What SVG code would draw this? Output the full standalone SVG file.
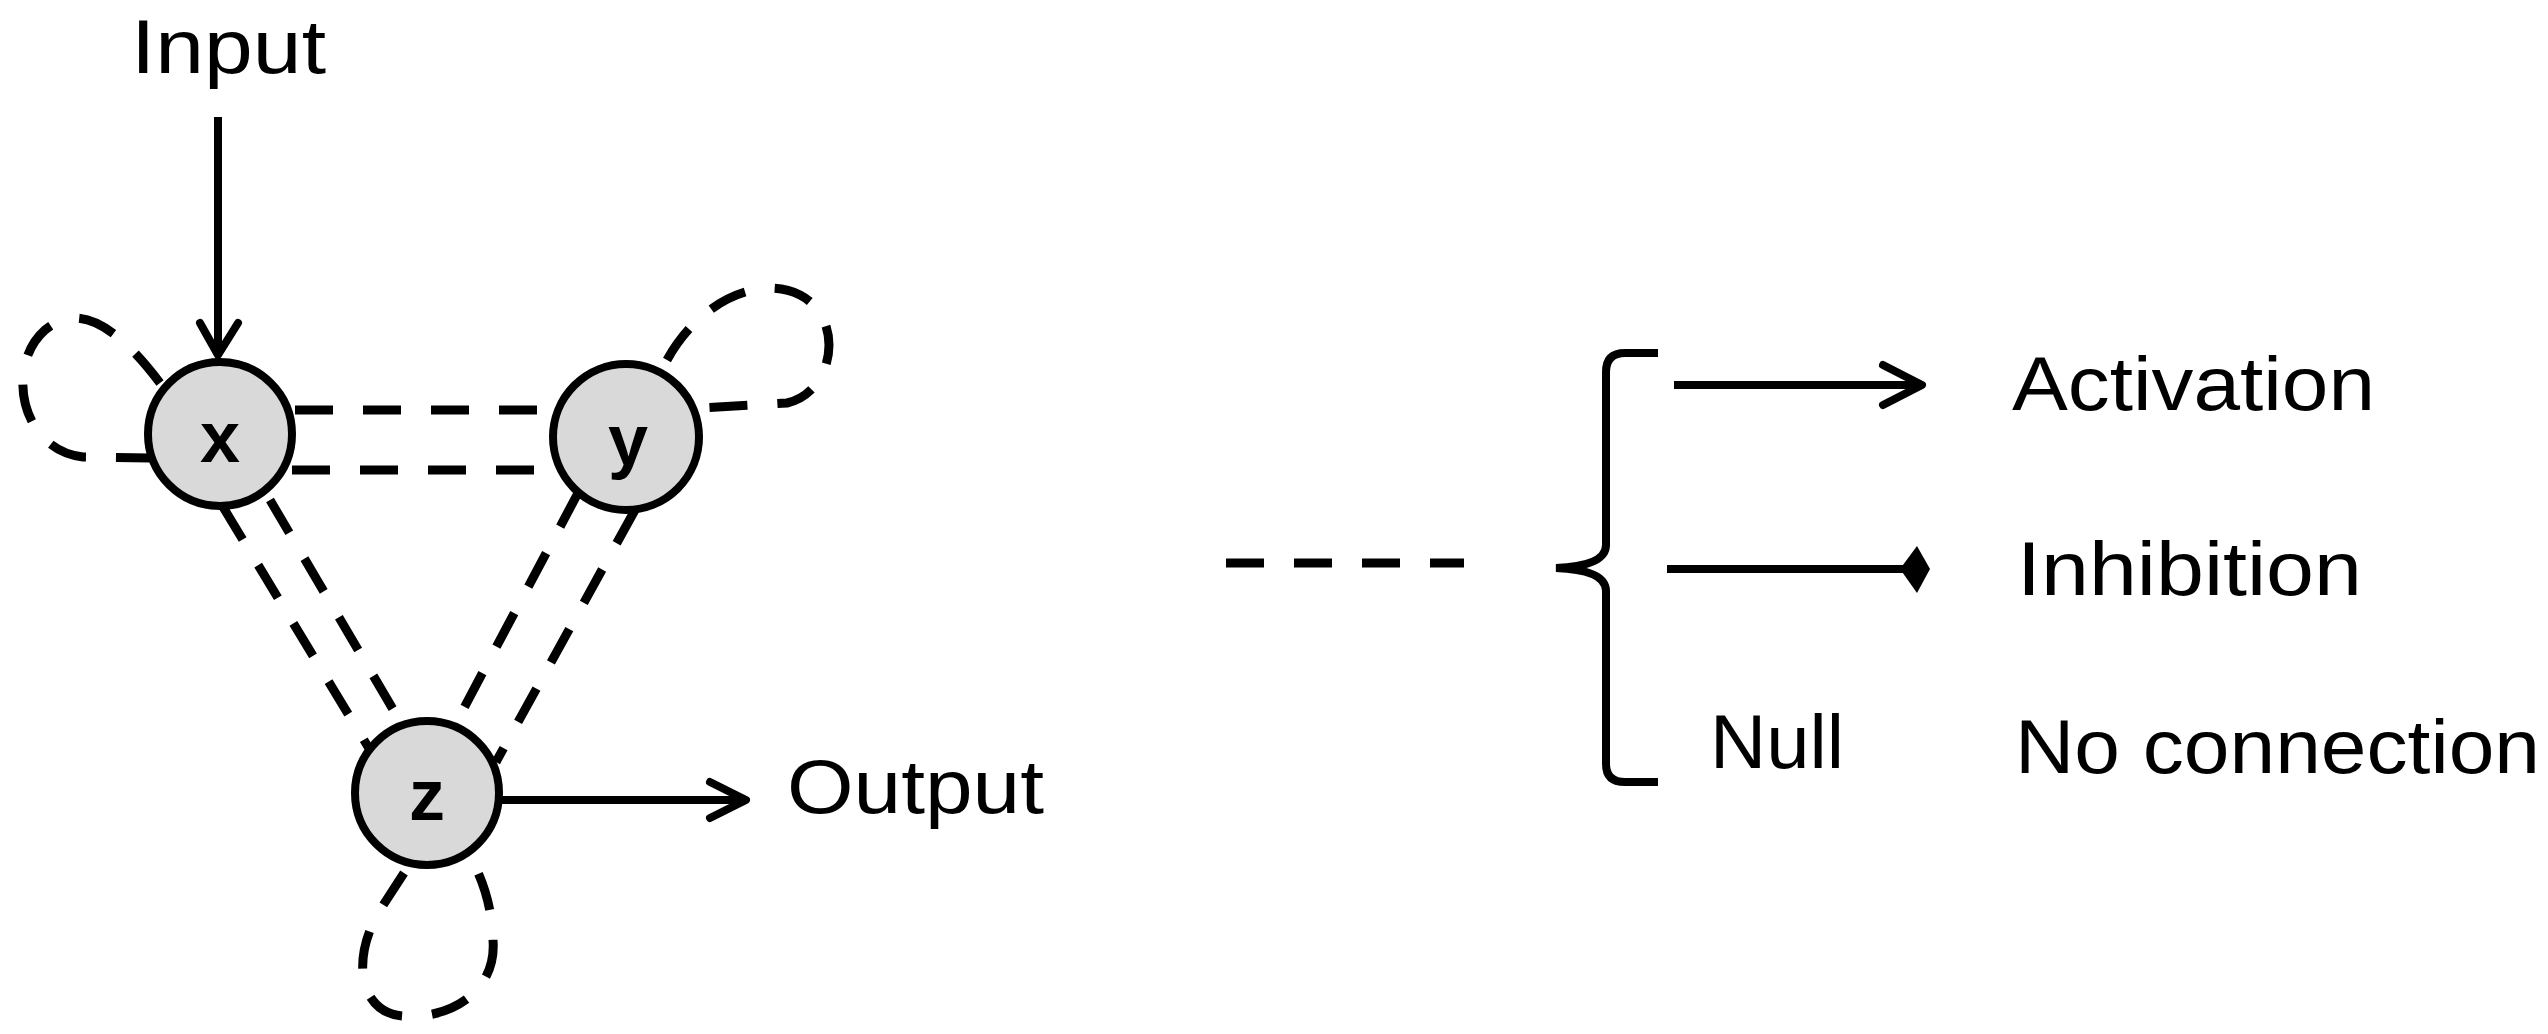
<svg xmlns="http://www.w3.org/2000/svg" width="2548" height="1034" viewBox="0 0 2548 1034">
<style>
.t{font-family:"Liberation Sans",Arial,sans-serif;font-size:76px;fill:#000}
.lbl{font-family:"Liberation Sans",Arial,sans-serif;font-size:72px;font-weight:bold;fill:#000;text-anchor:middle}
.node{fill:#d9d9d9;stroke:#000;stroke-width:8}
.dash{fill:none;stroke:#000;stroke-width:9;stroke-dasharray:38 30}
.solid{fill:none;stroke:#000;stroke-width:8}
.head{fill:none;stroke:#000;stroke-width:8;stroke-linecap:round;stroke-linejoin:round}
</style>
<rect width="2548" height="1034" fill="#fff"/>
<g id="connectors">
<path class="dash" d="M160,383 C120,330 80,300 45,330 C5,365 20,450 83,457 L150,458"/>
<path class="dash" d="M667,360 C700,300 760,275 800,295 C845,318 835,392 787,403 L700,408"/>
<path class="dash" d="M404,873 L380,910 C350,960 360,1012 402,1016 C452,1020 497,990 493,940 C492,910 485,885 472,860"/>
<path class="dash" d="M295,410 L550,410"/>
<path class="dash" d="M292,470 L550,470"/>
<path class="dash" d="M223,507 L376,760"/>
<path class="dash" d="M270,500 L404,728"/>
<path class="dash" d="M578,493 L448,738"/>
<path class="dash" d="M635,510 L496,762"/>
<path class="solid" d="M218,117 L218,355"/>
<path class="head" d="M200,323 L218,355 L238,323"/>
<path class="solid" d="M500,800 L744,800"/>
<path class="head" d="M710,782 L746,800 L710,818"/>
</g>
<g id="node-x"><circle class="node" cx="220" cy="434" r="72"/><text class="lbl" x="220" y="462">x</text></g>
<g id="node-y"><circle class="node" cx="626" cy="437" r="73"/><text class="lbl" x="628" y="465">y</text></g>
<g id="node-z"><circle class="node" cx="427" cy="793" r="72"/><text class="lbl" x="427" y="820">z</text></g>
<g id="io-labels">
<text class="t" x="131" y="73" textLength="195" lengthAdjust="spacingAndGlyphs">Input</text>
<text class="t" x="787" y="813" textLength="257" lengthAdjust="spacingAndGlyphs">Output</text>
</g>
<g id="legend">
<path class="dash" d="M1226,563 L1464,563" stroke-dasharray="39 28"/>
<path class="solid" d="M1658,353 L1625,353 Q1606,353 1606,372 L1606,545 Q1606,566 1556,568 Q1606,570 1606,591 L1606,764 Q1606,782 1625,782 L1658,782"/>
<path class="solid" d="M1674,385 L1918,385"/>
<path class="head" d="M1883,365 L1922,385 L1883,405"/>
<path class="solid" d="M1667,569 L1905,569"/>
<polygon points="1900,569 1917,546 1930,569 1917,593" fill="#000"/>
<text class="t" x="2012" y="410" textLength="363" lengthAdjust="spacingAndGlyphs">Activation</text>
<text class="t" x="2017" y="595" textLength="345" lengthAdjust="spacingAndGlyphs">Inhibition</text>
<text class="t" x="1710" y="768" textLength="134" lengthAdjust="spacingAndGlyphs">Null</text>
<text class="t" x="2015" y="773" textLength="525" lengthAdjust="spacingAndGlyphs">No connection</text>
</g>
</svg>
